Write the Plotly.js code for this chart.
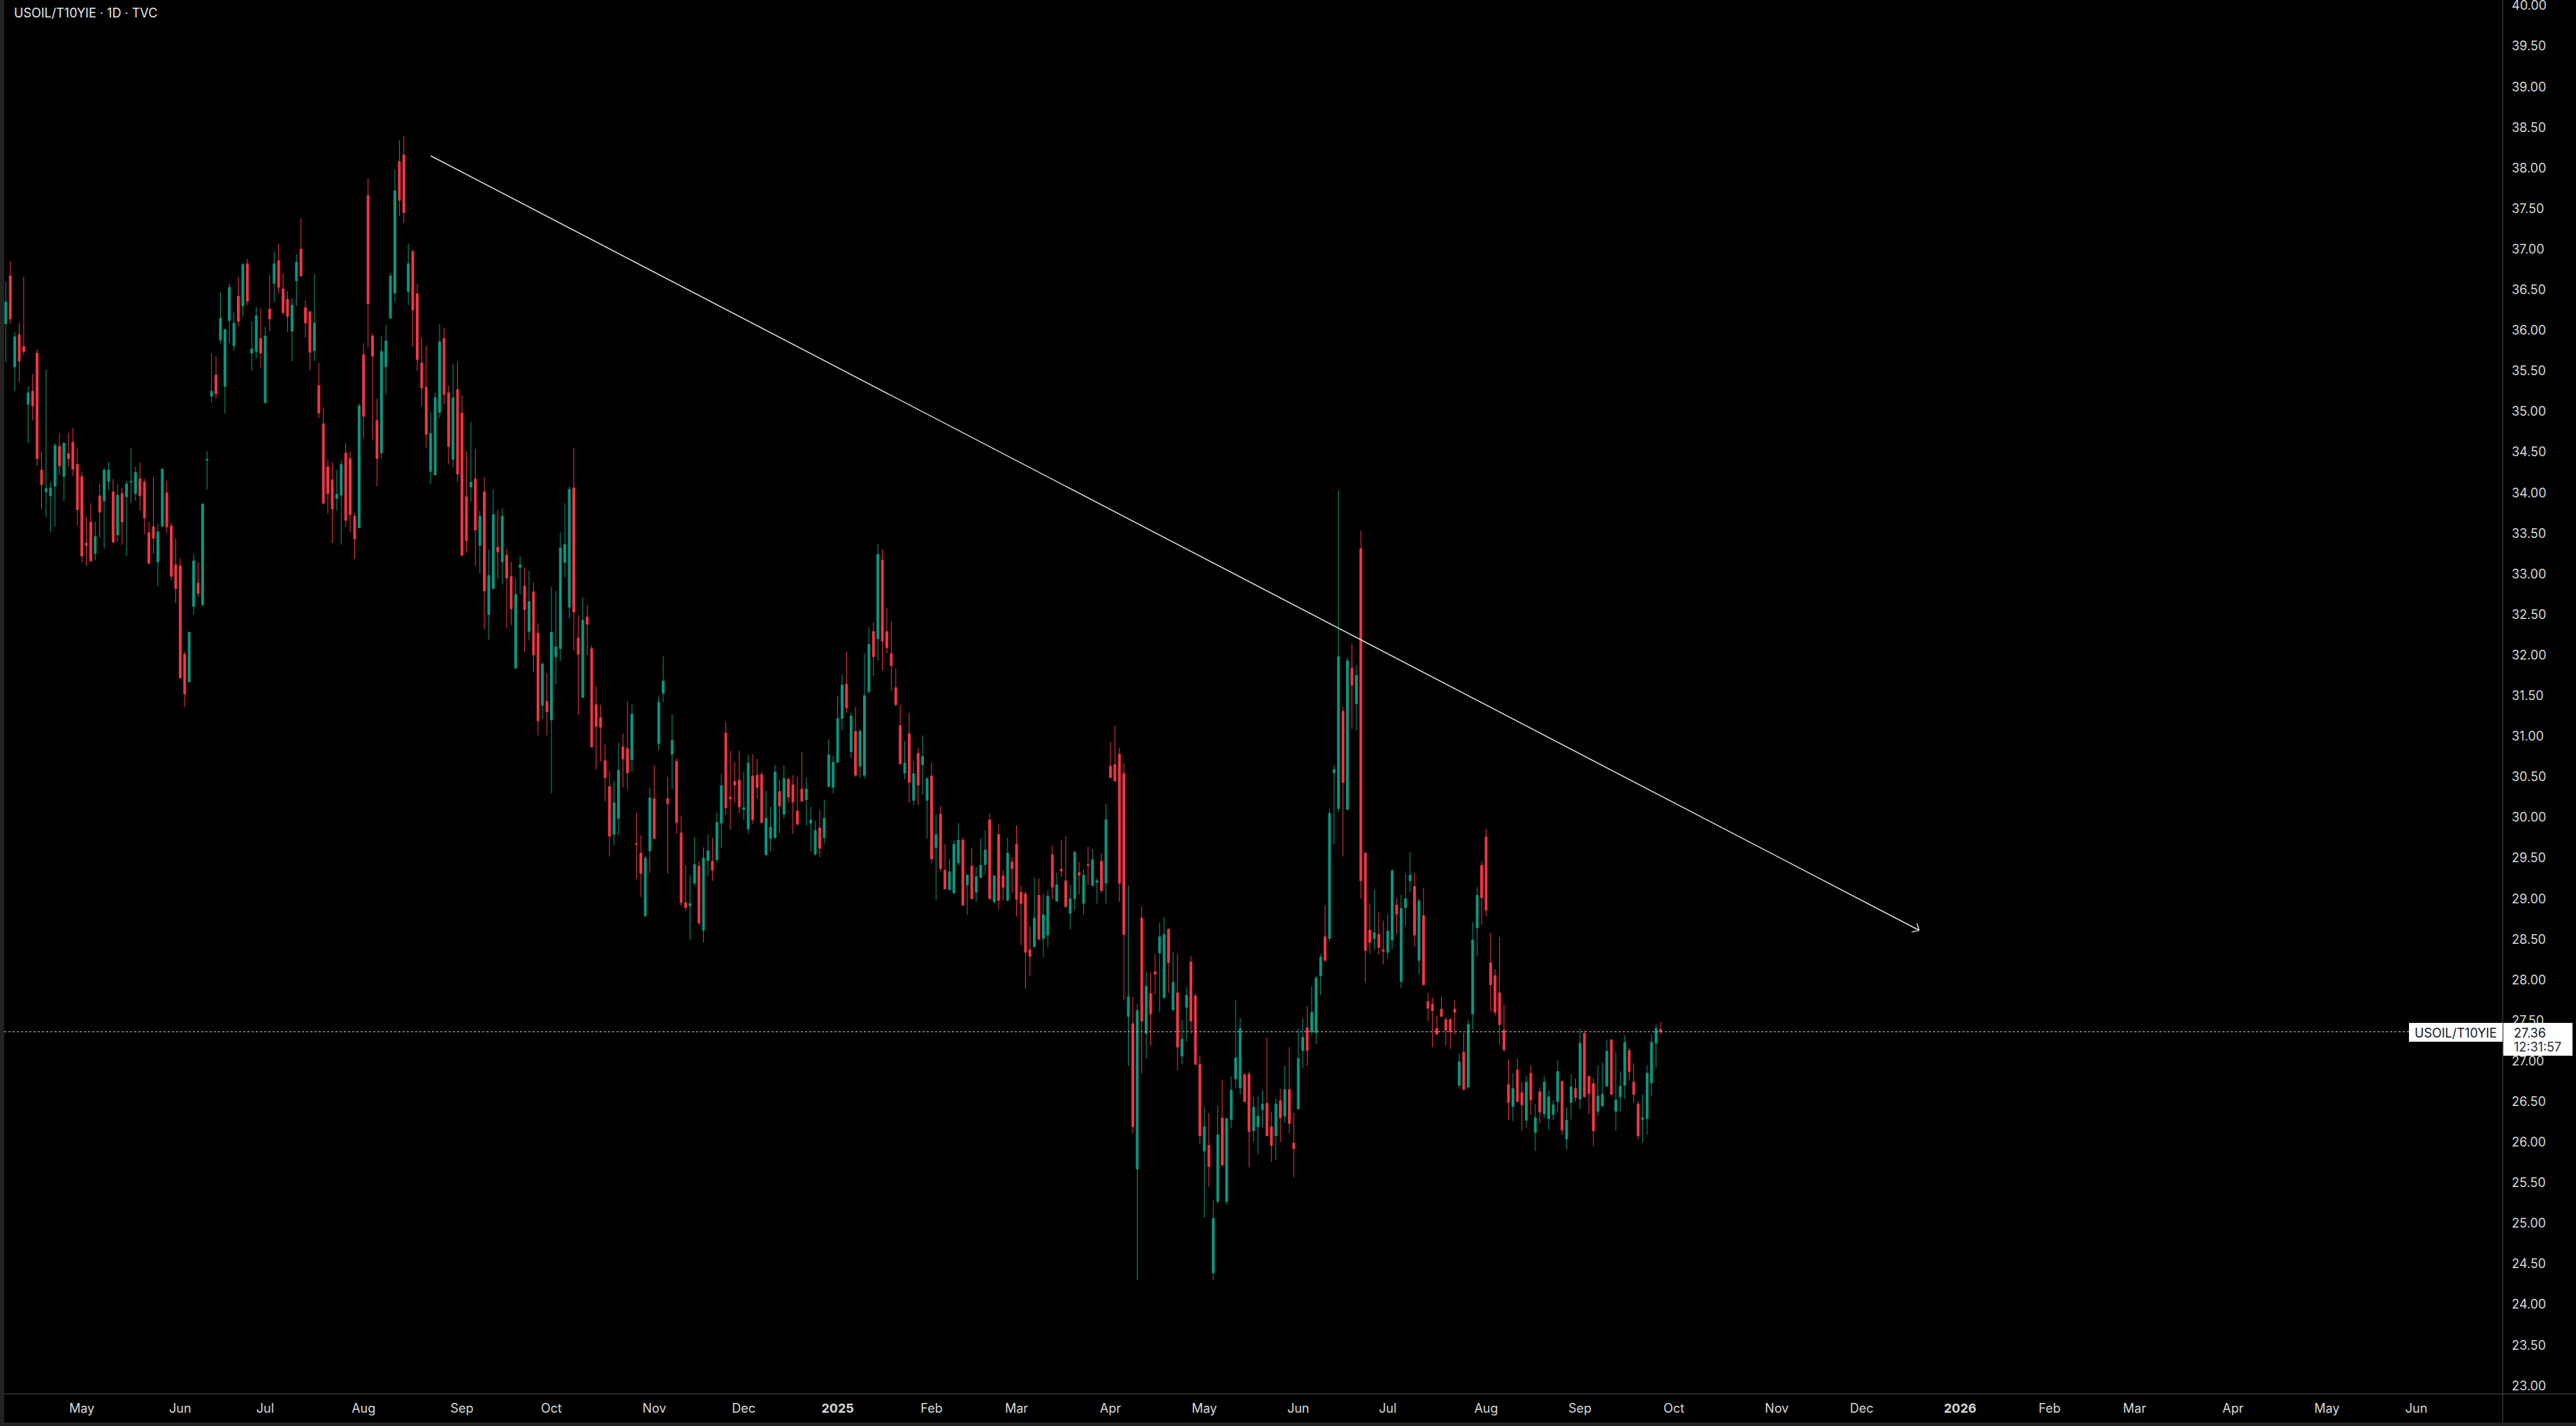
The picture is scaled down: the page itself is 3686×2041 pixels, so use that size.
<!DOCTYPE html>
<html>
<head>
<meta charset="utf-8">
<script src="https://cdn.plot.ly/plotly-3.0.1.min.js"></script>
<style>
html,body{margin:0;padding:0;background:#232323;width:3686px;height:2041px;overflow:hidden;}
#chart{position:absolute;left:6px;top:0;width:3680px;height:2036px;background:#000;}
</style>
</head>
<body>
<div id="chart"></div>
<script>
// ---------------- DATA ----------------
const symbolTitle = 'USOIL/T10YIE · 1D · TVC';
const tagLabel = 'USOIL/T10YIE';
const lastPrice = 27.36;
const lastTimer = '12:31:57';
const firstBarDate = '2024-04-08';

// exchange holidays (no bars, removed from the time axis)
const holidays = ['2024-05-27','2024-06-19','2024-07-04','2024-09-02','2024-11-28','2024-12-25',
  '2025-01-01','2025-01-20','2025-02-17','2025-04-18','2025-05-26','2025-06-19','2025-07-04','2025-09-01',
  '2025-11-27','2025-12-25','2026-01-01','2026-01-19','2026-02-16','2026-04-03','2026-05-25','2026-06-19'];

const opens = [
36.08,36.67,35.55,35.95,35.80,35.09,35.25,35.72,34.28,34.01,
33.96,34.08,34.57,34.20,34.48,34.62,34.35,34.20,33.38,33.64,
33.25,33.96,33.90,34.14,34.01,33.48,33.99,33.95,34.13,33.99,
34.17,34.13,33.51,33.58,33.15,33.59,34.00,33.59,33.11,33.10,
32.01,31.67,32.60,32.89,32.62,34.40,35.19,35.45,35.88,35.31,
36.12,35.81,36.42,36.30,36.82,35.72,35.74,35.90,35.11,36.26,
36.58,36.86,36.51,36.38,35.99,36.61,37.00,36.28,36.23,35.75,
35.32,34.85,34.32,34.16,33.93,33.97,34.49,34.42,33.71,33.57,
35.70,37.66,35.93,34.89,34.49,35.55,36.15,36.46,38.08,38.16,
36.48,36.97,36.45,35.60,35.30,34.26,34.22,34.99,35.90,35.23,
34.41,35.27,34.98,33.95,34.07,34.17,33.35,34.01,32.50,32.82,
33.33,33.15,33.23,32.97,31.84,33.08,32.85,32.29,32.78,32.27,
31.38,31.43,31.20,31.98,32.08,33.14,32.59,34.06,32.21,31.48,
32.47,32.08,31.39,31.23,30.70,30.38,29.79,29.99,30.87,30.85,
30.71,29.68,29.56,28.79,29.59,30.23,30.91,31.53,30.23,30.78,
30.69,29.81,28.95,28.91,29.19,29.40,28.61,29.47,29.46,29.48,
29.93,31.04,30.25,30.44,30.46,30.10,29.86,30.51,30.52,30.53,
29.54,29.74,29.75,30.32,30.04,30.47,30.40,30.08,30.35,30.22,
29.93,29.55,29.87,29.75,30.38,30.37,30.68,31.22,31.64,30.81,
31.06,30.63,30.52,31.55,32.29,32.20,33.17,32.29,32.02,31.60,
31.13,30.55,31.03,30.21,30.79,30.65,30.21,30.51,29.63,30.04,
29.35,29.11,29.07,29.44,29.72,29.17,29.40,29.08,29.26,29.42,
29.97,28.96,29.79,29.28,28.98,29.45,29.67,29.08,29.06,28.37,
28.41,29.04,28.51,28.55,29.54,28.97,29.36,29.22,28.82,29.00,
29.32,28.94,29.42,29.16,29.20,29.46,29.19,30.63,30.65,30.78,
30.54,27.55,27.46,25.67,28.76,27.34,27.83,28.10,28.33,27.78,
28.62,27.63,27.84,27.06,27.66,28.22,27.80,26.96,25.89,25.96,
24.39,25.27,26.30,25.27,26.28,26.78,26.67,26.83,26.84,26.14,
26.19,26.40,26.48,26.19,26.08,26.51,26.32,26.65,25.99,26.41,
27.13,27.41,27.36,27.35,28.05,28.53,28.51,30.55,30.11,31.31,
30.10,31.84,31.40,33.31,29.56,28.61,28.51,28.56,28.37,28.34,
28.49,28.92,27.98,28.89,29.22,29.15,28.24,28.79,27.73,27.70,
27.40,27.64,27.51,27.51,27.64,26.70,27.11,26.68,27.58,28.64,
29.41,29.76,28.21,28.05,27.84,27.38,26.71,26.44,26.89,26.61,
26.27,26.85,26.12,26.62,26.35,26.29,26.34,26.50,26.75,26.04,
26.49,26.66,26.53,27.34,26.81,26.72,26.38,26.45,26.69,27.26,
26.38,26.56,26.70,27.13,26.74,26.47,26.28,26.29,26.73,27.22,
27.39];

const highs = [
36.60,36.85,35.98,36.09,36.66,35.31,35.46,35.77,34.51,35.52,
34.13,34.61,34.73,34.62,34.74,34.80,34.55,34.26,33.70,33.87,
33.64,34.11,34.30,34.38,34.17,34.11,34.06,34.15,34.55,34.32,
34.37,34.17,33.64,34.19,33.62,34.30,34.15,33.63,33.44,33.19,
32.05,32.29,33.24,33.14,33.87,34.51,35.72,35.68,36.47,36.02,
36.58,36.22,36.66,36.83,36.88,36.11,36.29,36.27,36.04,36.68,
36.97,37.06,36.70,36.48,36.40,36.94,37.38,36.37,36.24,36.69,
35.60,35.05,34.40,34.37,34.28,34.40,34.61,34.51,33.75,35.10,
35.84,37.87,35.96,35.16,35.93,36.07,36.70,37.98,38.34,38.39,
37.07,36.99,36.57,35.91,35.81,34.99,35.23,36.08,36.03,35.32,
35.59,35.61,35.20,34.51,34.87,34.54,33.78,34.19,33.30,34.04,
33.79,33.81,33.31,33.15,32.95,33.22,33.08,33.04,32.89,32.39,
31.91,31.78,32.84,32.79,33.51,33.87,34.08,34.55,32.49,32.71,
32.62,32.12,31.62,31.39,30.90,30.57,30.45,30.92,31.03,31.43,
31.39,30.06,29.78,29.53,30.37,30.64,31.49,31.99,30.50,31.27,
30.73,30.02,29.41,29.29,29.76,29.46,29.63,29.79,29.75,30.06,
30.54,31.18,30.82,30.68,30.82,30.56,30.77,30.78,30.72,30.56,
30.33,30.13,30.65,30.46,30.64,30.49,30.52,30.50,30.81,30.49,
30.13,29.96,30.09,30.22,30.96,30.76,31.50,31.76,32.04,31.29,
31.36,31.09,32.02,32.34,32.40,33.37,33.30,32.58,32.42,31.84,
31.39,30.94,31.29,30.69,30.85,31.01,30.49,30.67,30.04,30.14,
29.67,29.49,29.72,29.93,29.75,29.30,29.62,29.39,29.74,29.84,
30.05,29.29,29.92,29.35,29.75,29.51,29.90,29.16,29.09,28.66,
29.26,29.25,29.06,29.11,29.65,29.32,29.72,29.77,29.17,29.59,
29.45,29.36,29.64,29.61,29.25,29.56,30.17,30.93,31.13,30.86,
30.67,29.16,27.79,27.70,28.90,28.10,28.09,28.32,28.70,28.77,
28.64,28.34,28.32,27.51,27.91,28.29,27.83,27.07,26.43,26.36,
25.28,26.45,26.77,26.30,26.81,27.75,27.53,26.85,26.87,26.56,
26.56,26.64,27.29,26.37,26.54,26.66,26.94,27.17,26.36,27.40,
27.53,27.67,27.92,28.05,28.32,28.92,30.10,30.65,34.03,31.36,
31.97,32.14,31.88,33.53,29.57,28.94,29.11,28.84,28.73,28.81,
29.37,29.00,29.05,29.31,29.57,29.32,29.00,29.13,27.84,27.78,
27.56,27.79,27.54,27.53,27.75,27.09,27.35,27.51,28.71,29.14,
29.46,29.86,28.58,28.13,28.53,27.70,27.02,26.85,27.03,26.74,
26.81,26.95,26.47,26.67,26.81,26.64,26.52,27.01,26.76,26.43,
26.84,26.78,27.40,27.38,26.82,26.79,26.95,26.98,27.26,27.27,
27.11,26.87,27.32,27.16,26.97,26.50,26.59,26.95,27.33,27.45,
27.48];

const lows = [
35.61,36.08,35.25,35.37,35.70,34.61,34.89,34.33,33.80,33.70,
33.51,33.58,34.22,33.90,34.32,34.21,33.60,33.14,33.10,33.15,
33.17,33.45,33.31,34.03,33.38,33.40,33.36,33.22,33.87,33.90,
33.78,33.49,33.12,33.25,32.85,33.57,33.50,32.92,32.64,31.71,
31.36,31.66,32.50,32.72,32.60,34.04,35.11,35.16,35.84,34.97,
35.84,35.75,36.05,36.17,36.31,35.50,35.65,35.54,35.10,35.99,
36.35,36.46,36.19,35.98,35.62,36.30,36.66,35.91,35.51,35.62,
34.92,33.86,33.74,33.38,33.78,33.36,33.58,33.52,33.18,33.56,
34.67,35.79,34.65,34.08,34.42,35.21,36.14,36.35,37.41,37.32,
36.31,35.80,35.50,35.06,34.55,34.11,34.21,34.92,35.09,34.35,
34.31,34.13,33.22,33.26,33.89,33.10,33.01,32.32,32.19,32.81,
32.94,32.87,32.33,32.37,31.83,32.75,32.04,32.18,31.79,31.01,
31.21,31.01,30.30,31.64,31.93,32.96,32.45,32.05,31.26,31.47,
32.00,30.86,30.59,30.69,30.20,29.52,29.66,29.78,30.37,30.34,
30.56,29.24,29.02,28.77,29.32,29.73,30.83,31.42,29.31,30.35,
29.80,28.91,28.85,28.49,29.16,28.67,28.46,29.28,29.22,29.44,
29.62,30.03,29.85,30.18,30.05,29.97,29.80,29.92,30.23,29.92,
29.53,29.58,29.74,29.81,29.99,30.18,29.80,29.90,30.19,29.90,
29.58,29.53,29.51,29.68,30.37,30.30,30.67,31.08,31.29,30.73,
30.50,30.49,30.48,31.52,31.74,31.93,31.81,32.02,31.56,31.37,
30.65,30.47,30.18,30.15,30.15,30.28,29.74,29.44,28.98,29.34,
29.11,29.10,29.05,29.41,28.91,28.80,28.99,28.96,29.25,29.30,
28.99,28.94,28.87,28.98,28.97,29.07,28.78,28.43,27.89,28.05,
28.39,28.49,28.28,28.40,28.99,28.96,29.27,28.89,28.62,28.86,
29.05,28.80,29.17,29.15,28.94,29.07,28.94,30.48,30.44,28.96,
27.75,26.94,26.11,24.30,26.85,27.03,27.19,27.82,27.60,27.77,
27.84,27.62,26.88,26.96,27.24,27.34,26.95,25.98,25.07,25.45,
24.30,25.25,25.70,25.23,26.17,26.66,26.59,26.49,25.69,26.00,
25.85,26.18,26.07,25.76,25.78,26.00,26.24,26.11,25.57,26.40,
26.92,26.94,27.32,27.21,27.81,28.22,28.47,29.67,30.07,29.52,
30.09,31.09,31.07,29.00,27.97,28.32,28.37,28.31,28.19,28.26,
28.38,28.57,27.90,28.66,29.08,28.41,28.07,27.93,27.49,27.17,
27.32,27.54,27.19,27.15,27.32,26.66,26.64,26.66,27.38,28.29,
28.68,28.78,27.61,27.56,27.20,27.11,26.27,26.26,26.49,26.14,
26.18,26.34,25.89,26.23,26.30,26.15,26.27,26.37,26.09,25.91,
26.28,26.50,26.41,26.55,26.35,25.95,26.32,26.43,26.68,26.58,
26.14,26.38,26.53,26.76,26.48,26.03,26.00,26.09,26.57,26.92,
27.33];

const closes = [
36.35,36.14,35.92,35.62,35.74,35.23,35.07,34.42,34.10,34.05,
34.06,34.58,34.33,34.61,34.42,34.29,33.79,33.22,33.35,33.16,
33.46,33.76,34.28,34.28,33.39,33.97,33.64,34.11,34.14,34.25,
33.96,33.69,33.13,33.44,33.52,34.29,33.58,32.97,32.82,31.72,
31.52,32.28,33.16,32.76,33.86,34.41,35.25,35.22,36.15,36.01,
36.53,36.09,36.11,36.81,36.36,35.77,36.18,35.72,35.93,36.14,
36.82,36.53,36.22,36.17,36.31,36.84,36.67,36.09,35.73,36.09,
34.98,33.87,33.99,33.80,33.98,34.35,33.66,33.73,33.43,35.07,
34.94,36.33,35.68,34.42,35.74,35.87,36.67,37.72,37.60,37.45,
36.82,36.25,35.64,35.29,34.72,34.73,35.17,35.86,35.21,34.57,
35.17,34.23,33.23,33.41,34.13,33.54,33.71,32.79,32.98,33.73,
33.27,33.71,32.95,32.57,32.75,33.11,32.56,32.66,32.00,31.19,
31.89,31.30,32.28,32.10,33.32,33.36,34.04,32.53,32.01,32.43,
32.38,30.87,31.12,31.11,30.49,29.77,30.18,30.58,30.72,30.55,
31.27,29.67,29.31,29.50,30.24,29.74,31.42,31.68,30.17,30.95,
29.94,28.95,28.89,28.94,29.42,28.70,29.50,29.59,29.35,29.94,
30.39,30.12,30.23,30.40,30.13,30.12,30.67,29.97,30.37,29.94,
29.99,29.88,30.56,30.14,30.48,30.25,30.19,29.92,30.20,30.35,
29.97,29.84,29.62,29.99,30.77,30.68,31.22,31.63,31.35,31.25,
30.52,31.06,31.50,32.13,31.98,33.24,32.17,32.09,31.87,31.39,
30.66,30.67,30.43,30.54,30.40,30.75,30.48,29.49,29.79,29.37,
29.12,29.33,29.67,29.72,28.92,29.29,29.00,29.27,29.41,29.60,
29.00,29.28,28.98,29.14,29.56,29.37,28.99,28.94,28.34,28.29,
28.76,28.50,28.80,29.03,29.14,29.17,29.34,28.90,29.00,29.57,
29.29,29.29,29.41,29.48,29.22,29.10,29.97,30.49,30.45,29.19,
28.56,27.79,26.19,27.62,27.49,27.92,27.58,28.07,28.53,28.56,
28.21,27.97,27.17,27.27,27.81,27.49,26.96,26.08,26.19,25.70,
25.06,26.09,25.72,26.29,26.64,27.04,27.40,26.50,26.13,26.43,
26.32,26.47,26.08,25.96,26.47,26.30,26.65,26.23,25.92,27.03,
27.29,27.13,27.60,28.02,28.28,28.24,30.05,30.59,31.98,30.43,
31.93,31.63,31.75,29.22,28.36,28.46,28.58,28.40,28.35,28.60,
29.34,28.81,28.88,29.00,29.29,28.55,28.97,27.94,27.65,27.62,
27.33,27.55,27.38,27.36,27.60,26.99,26.65,27.45,28.49,29.04,
29.01,28.86,27.94,27.60,27.45,27.14,26.49,26.66,26.50,26.46,
26.74,26.52,26.30,26.37,26.74,26.56,26.46,26.87,26.15,26.27,
26.68,26.55,27.22,26.56,26.60,26.14,26.57,26.59,27.12,26.59,
26.52,26.69,27.23,26.87,26.59,26.08,26.30,26.85,27.23,27.40,
27.36];

// time-axis month labels (first trading day of each month)
const monthTickDates = ['2024-05-01','2024-06-03','2024-07-01','2024-08-01','2024-09-03','2024-10-01',
  '2024-11-01','2024-12-02','2025-01-02','2025-02-03','2025-03-03','2025-04-01','2025-05-01','2025-06-02',
  '2025-07-01','2025-08-01','2025-09-02','2025-10-01','2025-11-03','2025-12-01','2026-01-02','2026-02-02',
  '2026-03-02','2026-04-01','2026-05-01','2026-06-01'];
const monthTickLabels = ['May','Jun','Jul','Aug','Sep','Oct','Nov','Dec','<b>2025</b>','Feb','Mar','Apr',
  'May','Jun','Jul','Aug','Sep','Oct','Nov','Dec','<b>2026</b>','Feb','Mar','Apr','May','Jun'];

// user-drawn trend line (time, price)
const trendStart = {date: '2024-08-22', price: 38.15};
const trendEnd = {date: '2025-12-17 20:00', price: 28.61};

// visible window
const xRange = ['2024-04-05 15:22', '2026-06-29 07:12'];
const yRange = [22.900, 40.069];

// ---------------- BUILD ----------------
function tradingDays(start, n, hol) {
  const set = new Set(hol);
  const out = [];
  const p = start.split('-').map(Number);
  let d = new Date(Date.UTC(p[0], p[1] - 1, p[2]));
  while (out.length < n) {
    const wd = d.getUTCDay();
    const s = d.toISOString().slice(0, 10);
    if (wd !== 0 && wd !== 6 && !set.has(s)) out.push(s);
    d = new Date(d.getTime() + 86400000);
  }
  return out;
}
const dates = tradingDays(firstBarDate, closes.length, holidays);

// layout geometry (page pixels -> paper fractions)
const W = 3680, H = 2036, ML = 0, MR = 105, MT = 0, MB = 41;
const PW = W - ML - MR, PH = H - MT - MB;
const PAGE_X0 = 6;
const px = v => (v - PAGE_X0 - ML) / PW;
const py = v => 1 - (v - MT) / PH;

const GREEN = '#089981', RED = '#F23645';
const AXIS_LINE = '#4f4f4f';
const TEXT = '#d8d8d8';
const FONT = 'Inter, "Noto Sans", "Liberation Sans", sans-serif';

const trace = {
  type: 'candlestick',
  x: dates, open: opens, high: highs, low: lows, close: closes,
  increasing: {line: {color: GREEN, width: 1}, fillcolor: GREEN},
  decreasing: {line: {color: RED, width: 1}, fillcolor: RED},
  whiskerwidth: 0,
  hoverinfo: 'skip',
  showlegend: false
};

const shapes = [
  // axis borders
  {type: 'line', xref: 'paper', yref: 'paper', x0: 1, x1: 1, y0: py(2036), y1: 1,
   line: {color: AXIS_LINE, width: 1}},
  {type: 'line', xref: 'paper', yref: 'paper', x0: 0, x1: px(3686), y0: 0, y1: 0,
   line: {color: AXIS_LINE, width: 1}},
  // last price dotted line
  {type: 'line', xref: 'paper', yref: 'y', x0: 0, x1: px(3447), y0: lastPrice, y1: lastPrice,
   line: {color: '#cfcfcf', width: 1, dash: 'dot'}},
  // trend line
  {type: 'line', xref: 'x', yref: 'y', x0: trendStart.date, y0: trendStart.price,
   x1: trendEnd.date, y1: trendEnd.price, line: {color: '#dedede', width: 1.5}},
  // arrow head
  {type: 'line', xref: 'x', yref: 'y', xsizemode: 'pixel', ysizemode: 'pixel',
   xanchor: trendEnd.date, yanchor: trendEnd.price, x0: 0, y0: 0, x1: -3.4, y1: 10,
   line: {color: '#dedede', width: 1.5}},
  {type: 'line', xref: 'x', yref: 'y', xsizemode: 'pixel', ysizemode: 'pixel',
   xanchor: trendEnd.date, yanchor: trendEnd.price, x0: 0, y0: 0, x1: -10.7, y1: -2.6,
   line: {color: '#dedede', width: 1.5}},
  // symbol tag
  {type: 'rect', xref: 'paper', yref: 'paper', x0: px(3447), x1: px(3581), y0: py(1491), y1: py(1464),
   fillcolor: '#ffffff', line: {width: 0}},
  // price tag
  {type: 'rect', xref: 'paper', yref: 'paper', x0: px(3582), x1: px(3681), y0: py(1511), y1: py(1464),
   fillcolor: '#ffffff', line: {width: 0}}
];

const annotations = [
  {xref: 'paper', yref: 'paper', x: px(18), y: py(19), xanchor: 'left', yanchor: 'middle',
   text: symbolTitle, showarrow: false, font: {size: 18, color: '#e8e8e8', family: FONT}},
  {xref: 'paper', yref: 'paper', x: px(3514), y: py(1478), xanchor: 'center', yanchor: 'middle',
   text: tagLabel, showarrow: false, font: {size: 18, color: '#131722', family: FONT}},
  {xref: 'paper', yref: 'paper', x: px(3595), y: py(1478), xanchor: 'left', yanchor: 'middle',
   text: lastPrice.toFixed(2), showarrow: false, font: {size: 18, color: '#131722', family: FONT}},
  {xref: 'paper', yref: 'paper', x: px(3595), y: py(1498), xanchor: 'left', yanchor: 'middle',
   text: lastTimer, showarrow: false, font: {size: 18, color: '#2a2e39', family: FONT}}
];

const layout = {
  width: W, height: H,
  paper_bgcolor: '#000000', plot_bgcolor: '#000000',
  margin: {l: ML, r: MR, t: MT, b: MB, pad: 0},
  font: {family: FONT, color: TEXT, size: 18},
  showlegend: false,
  boxgap: 0.35,
  xaxis: {
    type: 'date', range: xRange,
    rangebreaks: [{bounds: ['sat', 'mon']}, {values: holidays}],
    rangeslider: {visible: false},
    tickmode: 'array', tickvals: monthTickDates, ticktext: monthTickLabels,
    showgrid: false, zeroline: false, showline: false, ticks: '',
    tickfont: {size: 18, color: TEXT, family: FONT},
    ticklabelstandoff: 8, ticklabeloverflow: 'allow', fixedrange: true
  },
  yaxis: {
    side: 'right', range: yRange,
    tickmode: 'linear', tick0: 23, dtick: 0.5, tickformat: '.2f',
    showgrid: false, zeroline: false, showline: false, ticks: '',
    tickfont: {size: 18, color: TEXT, family: FONT},
    ticklabelstandoff: 12, ticklabeloverflow: 'allow', fixedrange: true
  },
  shapes: shapes,
  annotations: annotations
};

Plotly.newPlot('chart', [trace], layout, {staticPlot: true, displayModeBar: false});
</script>
</body>
</html>
